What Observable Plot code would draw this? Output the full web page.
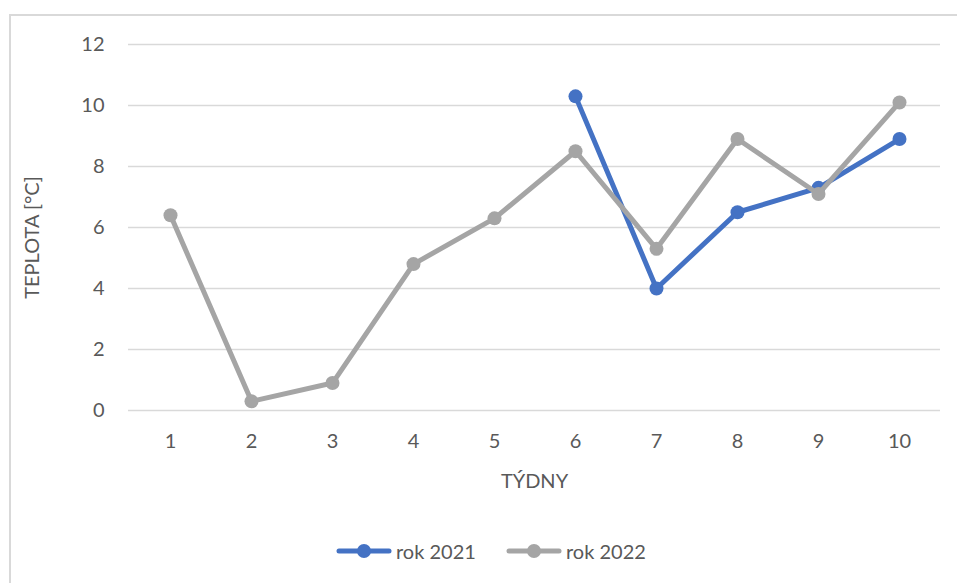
<!DOCTYPE html>
<html>
<head>
<meta charset="utf-8">
<script src="https://cdn.jsdelivr.net/npm/d3@7"></script>
<script src="https://cdn.jsdelivr.net/npm/@observablehq/plot@0.6"></script>
<style>
  html, body { margin: 0; padding: 0; background: #fff; width: 957px; height: 583px; overflow: hidden; }
  #frame { position: absolute; left: 9px; top: 14px; width: 1000px; height: 1000px; border: 2px solid #d9d9d9; box-sizing: border-box; }
  #chart { position: absolute; left: 0; top: 0; }
  #legend { position: absolute; left: 0; top: 538px; width: 957px; font-family: Lato, "Open Sans", sans-serif; font-size: 20px; color: #595959; }
  .item { position: absolute; top: 0; display: flex; align-items: center; height: 26px; }
  .item svg { display: block; margin-right: 4px; }
</style>
</head>
<body>
<div id="frame"></div>
<div id="chart"></div>
<div id="legend"></div>
<script>
const weeks = [1, 2, 3, 4, 5, 6, 7, 8, 9, 10];
const series = ["rok 2021", "rok 2022"];
const colors = ["#4472C4", "#A5A5A5"];
const weeks2021 = [6, 7, 8, 9, 10];
const temp2021 = [10.3, 4.0, 6.5, 7.3, 8.9];
const weeks2022 = [1, 2, 3, 4, 5, 6, 7, 8, 9, 10];
const temp2022 = [6.4, 0.3, 0.9, 4.8, 6.3, 8.5, 5.3, 8.9, 7.1, 10.1];
const yTicks = [0, 2, 4, 6, 8, 10, 12];
const xLabel = "TÝDNY";
const yLabel = "TEPLOTA [°C]";

const d2021 = weeks2021.map((w, i) => ({week: w, temp: temp2021[i], series: series[0]}));
const d2022 = weeks2022.map((w, i) => ({week: w, temp: temp2022[i], series: series[1]}));

const font = "Lato, 'Open Sans', sans-serif";

const chart = Plot.plot({
  width: 957,
  height: 500,
  marginLeft: 128,
  marginRight: 17,
  marginTop: 44,
  marginBottom: 90,
  style: { fontFamily: font, fontSize: "20px", color: "#595959", background: "transparent", overflow: "visible" },
  x: { type: "point", domain: weeks, padding: 0.5, label: null },
  y: { domain: [0, 12], label: null },
  color: { domain: series, range: colors },
  marks: [
    Plot.gridY(yTicks, { stroke: "#d9d9d9", strokeOpacity: 1, strokeWidth: 1.5 }),
    Plot.axisY(yTicks, { tickSize: 0, tickPadding: 24, label: null, fill: "#595959", fontSize: 20 }),
    Plot.axisX(weeks, { tickSize: 0, tickPadding: 23, label: null, fill: "#595959", fontSize: 20 }),
    Plot.text([yLabel], { frameAnchor: "left", dx: -96, dy: 10, rotate: -90, textAnchor: "middle", lineAnchor: "middle", text: d => d, fill: "#595959", fontSize: 20 }),
    Plot.text([xLabel], { frameAnchor: "bottom", dy: 71, textAnchor: "middle", lineAnchor: "middle", text: d => d, fill: "#595959", fontSize: 20 }),
    Plot.line(d2021, { x: "week", y: "temp", stroke: "series", strokeWidth: 5, strokeLinecap: "round", strokeLinejoin: "round" }),
    Plot.dot(d2021, { x: "week", y: "temp", fill: "series", r: 7 }),
    Plot.line(d2022, { x: "week", y: "temp", stroke: "series", strokeWidth: 5, strokeLinecap: "round", strokeLinejoin: "round" }),
    Plot.dot(d2022, { x: "week", y: "temp", fill: "series", r: 7 })
  ]
});
document.getElementById("chart").appendChild(chart);

const legend = document.getElementById("legend");
const lefts = [336, 506];
series.forEach((s, i) => {
  const item = document.createElement("div");
  item.className = "item";
  item.style.left = lefts[i] + "px";
  item.innerHTML = `<svg width="56" height="26"><line x1="3" y1="13" x2="53" y2="13" stroke="${colors[i]}" stroke-width="5" stroke-linecap="round"/><circle cx="28" cy="13" r="7" fill="${colors[i]}"/></svg><span>${s}</span>`;
  legend.appendChild(item);
});
</script>
</body>
</html>
